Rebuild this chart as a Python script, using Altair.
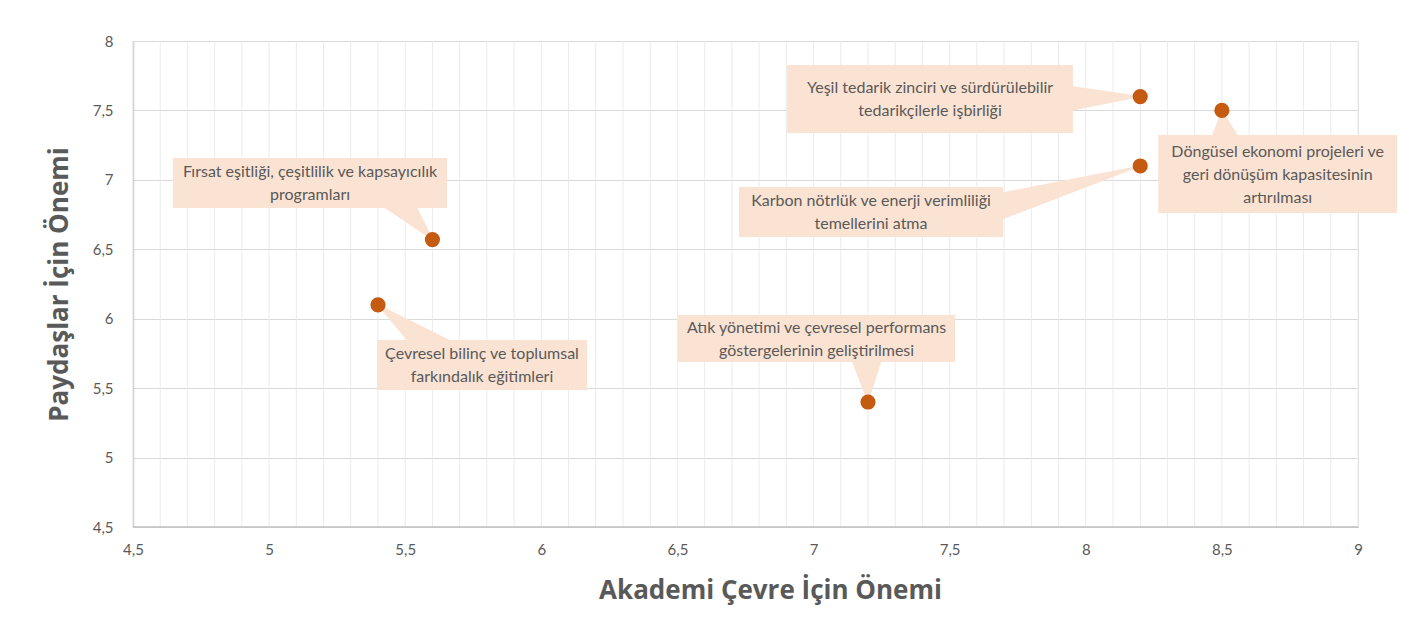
import altair as alt
import pandas as pd

# --- data ---
labels = [
    "Fırsat eşitliği,  çeşitlilik ve kapsayıcılık|programları",
    "Çevresel bilinç ve toplumsal|farkındalık eğitimleri",
    "Atık yönetimi ve çevresel performans|göstergelerinin geliştirilmesi",
    "Yeşil  tedarik zinciri ve sürdürülebilir|tedarikçilerle işbirliği",
    "Karbon nötrlük ve enerji verimliliği|temellerini  atma",
    "Döngüsel ekonomi projeleri ve|geri dönüşüm kapasitesinin|artırılması",
]
akademi = [5.6, 5.4, 7.2, 8.2, 8.2, 8.5]
paydas = [6.57, 6.1, 5.4, 7.6, 7.1, 7.5]

# annotation box placement (data units)
box_x1 = [4.647, 5.396, 6.502, 6.903, 6.726, 8.266]
box_x2 = [5.654, 6.168, 7.520, 7.953, 7.696, 9.144]
box_y1 = [6.798, 5.487, 5.689, 7.338, 6.589, 6.762]
box_y2 = [7.158, 5.847, 6.027, 7.827, 6.949, 7.323]
# callout wedge base (data units) and its width (px)
wedge_x = [5.426, 5.665, 7.193, 7.850, 7.612, 8.518]
wedge_y = [6.963, 5.689, 5.862, 7.582, 6.769, 7.143]
wedge_w = [40, 40, 46, 34, 30, 50]

x_major = [4.5, 5, 5.5, 6, 6.5, 7, 7.5, 8, 8.5, 9]
y_major = [4.5, 5, 5.5, 6, 6.5, 7, 7.5, 8]
x_minor = [round(4.5 + 0.1 * i, 1) for i in range(46)]

FILL = "#FBE3D3"
TXT = "#595959"
FONT = "Lato"
LH = 23
PX_PER_Y = 486 / 3.5

pts = pd.DataFrame({"label": labels, "x": akademi, "y": paydas})
boxes = pd.DataFrame({"label": labels, "x": box_x1, "x2": box_x2, "y": box_y1, "y2": box_y2})
lines = [l.split("|") for l in labels]
texts = pd.DataFrame({
    "x": [(a + b) / 2 for a, b in zip(box_x1, box_x2)],
    "y": [(a + b) / 2 + (len(ls) - 1) / 2 * LH / PX_PER_Y - 1 / PX_PER_Y
          for a, b, ls in zip(box_y1, box_y2, lines)],
    "lines": lines,
})
wrows = []
for i in range(len(labels)):
    wrows.append({"id": i, "o": 0, "x": akademi[i], "y": paydas[i], "w": 1})
    wrows.append({"id": i, "o": 1, "x": wedge_x[i], "y": wedge_y[i], "w": wedge_w[i]})
wedges = pd.DataFrame(wrows)

xs = alt.Scale(domain=[4.5, 9], nice=False, zero=False)
ys = alt.Scale(domain=[4.5, 8], nice=False, zero=False)

LBL = "replace(format(datum.value, '~g'), '.', ',')"
XAX = alt.Axis(values=x_major, labelExpr=LBL, labelFlush=False,
               grid=False, ticks=False, domain=False,
               labelFontSize=15, labelColor=TXT, labelFont=FONT, labelPadding=15,
               titleFontSize=26, titleFont="Open Sans", titleColor=TXT, titleFontWeight="bold",
               titlePadding=20, titleX=637)
YAX = alt.Axis(values=y_major, labelExpr=LBL, labelFlush=False,
               grid=True, gridColor="#D9D9D9", ticks=False, domain=True,
               domainColor="#BFBFBF", domainWidth=1.5,
               labelFontSize=15, labelColor=TXT, labelFont=FONT, labelPadding=20,
               titleFontSize=26, titleFont="Open Sans", titleColor=TXT, titleFontWeight="bold",
               titlePadding=20)
XT = "Akademi Çevre İçin Önemi"
YT = "Paydaşlar İçin Önemi"


def X(f):
    return alt.X(f, scale=xs, axis=XAX, title=XT)


def Y(f):
    return alt.Y(f, scale=ys, axis=YAX, title=YT)


minor = alt.Chart(pd.DataFrame({"x": x_minor})).mark_rule(
    color="#EBEBEB", strokeWidth=1
).encode(x=X("x:Q"))

bottom_line = alt.Chart(pd.DataFrame({"y": [4.5]})).mark_rule(color="#BFBFBF", strokeWidth=1.5).encode(
    y=Y("y:Q")
)

wedge = alt.Chart(wedges).mark_trail(color=FILL).encode(
    x=X("x:Q"),
    y=Y("y:Q"),
    detail="id:N",
    order="o:Q",
    size=alt.Size("w:Q", scale=None, legend=None),
)

rect = alt.Chart(boxes).mark_rect(color=FILL).encode(
    x=X("x:Q"), x2="x2:Q",
    y=Y("y:Q"), y2="y2:Q",
)

text = alt.Chart(texts).mark_text(
    font=FONT, fontSize=16, color=TXT, lineHeight=LH, baseline="middle", align="center"
).encode(
    x=X("x:Q"),
    y=Y("y:Q"),
    text="lines",
)

points = alt.Chart(pts).mark_circle(size=230, color="#C55A11", opacity=1).encode(
    x=X("x:Q"),
    y=Y("y:Q"),
)

chart = alt.layer(minor, bottom_line, wedge, rect, text, points).properties(
    width=1225, height=486,
    autosize=alt.AutoSizeParams(type="none"),
    padding={"left": 125, "top": 33, "right": 40, "bottom": 80},
).configure_view(stroke=None).configure(background="white")

chart.save("out.html", embed_options={"renderer": "svg", "actions": False})
